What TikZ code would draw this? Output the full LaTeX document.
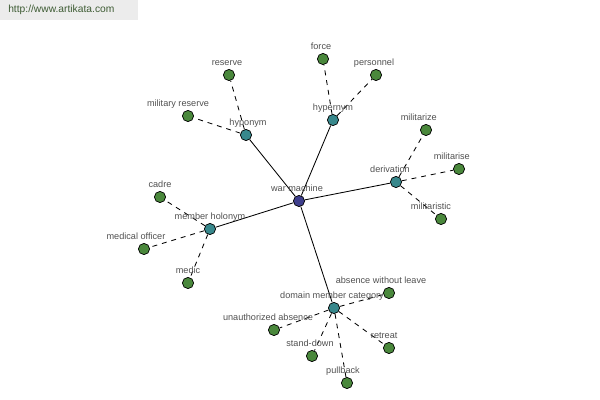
\documentclass[tikz,border=0pt]{standalone}
\usepackage{fontspec}
\setmainfont{Liberation Sans}
\usetikzlibrary{backgrounds}
\definecolor{hubblue}{RGB}{62,62,140}
\definecolor{relteal}{RGB}{56,136,140}
\definecolor{leafgreen}{RGB}{74,136,60}
\definecolor{lblgray}{RGB}{80,80,80}
\definecolor{urlgreen}{RGB}{62,92,52}
\definecolor{urlbg}{RGB}{236,236,236}

\begin{document}
\begin{tikzpicture}[x=0.025cm,y=-0.025cm,
    word/.style={draw,circle,minimum size=0.28cm,inner sep=0pt,line width=0.5pt},
    hub/.style={word,fill=hubblue},
    rel/.style={word,fill=relteal},
    leaf/.style={word,fill=leafgreen},
    lbl/.style={font=\fontsize{6.5}{7}\selectfont,text=lblgray,inner sep=0pt,text depth=0pt,yshift=2.4pt},
    strong/.style={line width=0.6pt},
    weak/.style={line width=0.6pt,dash pattern=on 3.5pt off 3.5pt}]
  \useasboundingbox (0,0) rectangle (600,400);
  % site banner
  \fill[urlbg] (0,0) rectangle (138,20);
  \node [anchor=west,inner sep=0pt,font=\fontsize{7.3}{8}\selectfont,text=urlgreen] (url) at (8,10) {http://www.artikata.com};
  % centre and relations
  \node [hub,label={[lbl,xshift=-0.05cm]above:war machine}] (warmachine) at (299,201) {};
  \node [rel,label={[lbl,xshift=0.05cm]above:hyponym}] (hyponym) at (246,135) {};
  \node [rel,label={[lbl]above:hypernym}] (hypernym) at (333,120) {};
  \node [rel,label={[lbl,xshift=-0.15cm]above:derivation}] (derivation) at (396,182) {};
  \node [rel,label={[lbl]above:member holonym}] (holonym) at (210,229) {};
  \node [rel,label={[lbl,xshift=-0.05cm]above:domain member category}] (domaincat) at (334,308) {};
  % hyponym
  \node [leaf,label={[lbl,xshift=-0.05cm]above:reserve}] (reserve) at (229,75) {};
  \node [leaf,label={[lbl,xshift=-0.25cm]above:military reserve}] (milreserve) at (188,116) {};
  % hypernym
  \node [leaf,label={[lbl,xshift=-0.05cm]above:force}] (force) at (323,59) {};
  \node [leaf,label={[lbl,xshift=-0.05cm]above:personnel}] (personnel) at (376,75) {};
  % derivation
  \node [leaf,label={[lbl,xshift=-0.18cm]above:militarize}] (militarize) at (426,130) {};
  \node [leaf,label={[lbl,xshift=-0.18cm]above:militarise}] (militarise) at (459,169) {};
  \node [leaf,label={[lbl,xshift=-0.25cm]above:militaristic}] (militaristic) at (441,219) {};
  % member holonym
  \node [leaf,label={[lbl]above:cadre}] (cadre) at (160,197) {};
  \node [leaf,label={[lbl,xshift=-0.2cm]above:medical officer}] (medofficer) at (144,249) {};
  \node [leaf,label={[lbl]above:medic}] (medic) at (188,283) {};
  % domain member category
  \node [leaf,label={[lbl,xshift=-0.2cm]above:absence without leave}] (awol) at (389,293) {};
  \node [leaf,label={[lbl,xshift=-0.15cm]above:unauthorized absence}] (unauth) at (274,330) {};
  \node [leaf,label={[lbl,xshift=-0.05cm]above:stand-down}] (standdown) at (312,356) {};
  \node [leaf,label={[lbl,xshift=-0.1cm]above:pullback}] (pullback) at (347,383) {};
  \node [leaf,label={[lbl,xshift=-0.12cm]above:retreat}] (retreat) at (389,348) {};
  \begin{pgfonlayer}{background}
    \draw[strong] (warmachine) -- (hyponym);
    \draw[strong] (warmachine) -- (hypernym);
    \draw[strong] (warmachine) -- (derivation);
    \draw[strong] (warmachine) -- (holonym);
    \draw[strong] (warmachine) -- (domaincat);
    \draw[weak] (hyponym) -- (reserve);
    \draw[weak] (hyponym) -- (milreserve);
    \draw[weak] (hypernym) -- (force);
    \draw[weak] (hypernym) -- (personnel);
    \draw[weak] (derivation) -- (militarize);
    \draw[weak] (derivation) -- (militarise);
    \draw[weak] (derivation) -- (militaristic);
    \draw[weak] (holonym) -- (cadre);
    \draw[weak] (holonym) -- (medofficer);
    \draw[weak] (holonym) -- (medic);
    \draw[weak] (domaincat) -- (awol);
    \draw[weak] (domaincat) -- (unauth);
    \draw[weak] (domaincat) -- (standdown);
    \draw[weak] (domaincat) -- (pullback);
    \draw[weak] (domaincat) -- (retreat);
  \end{pgfonlayer}
\end{tikzpicture}
\end{document}
